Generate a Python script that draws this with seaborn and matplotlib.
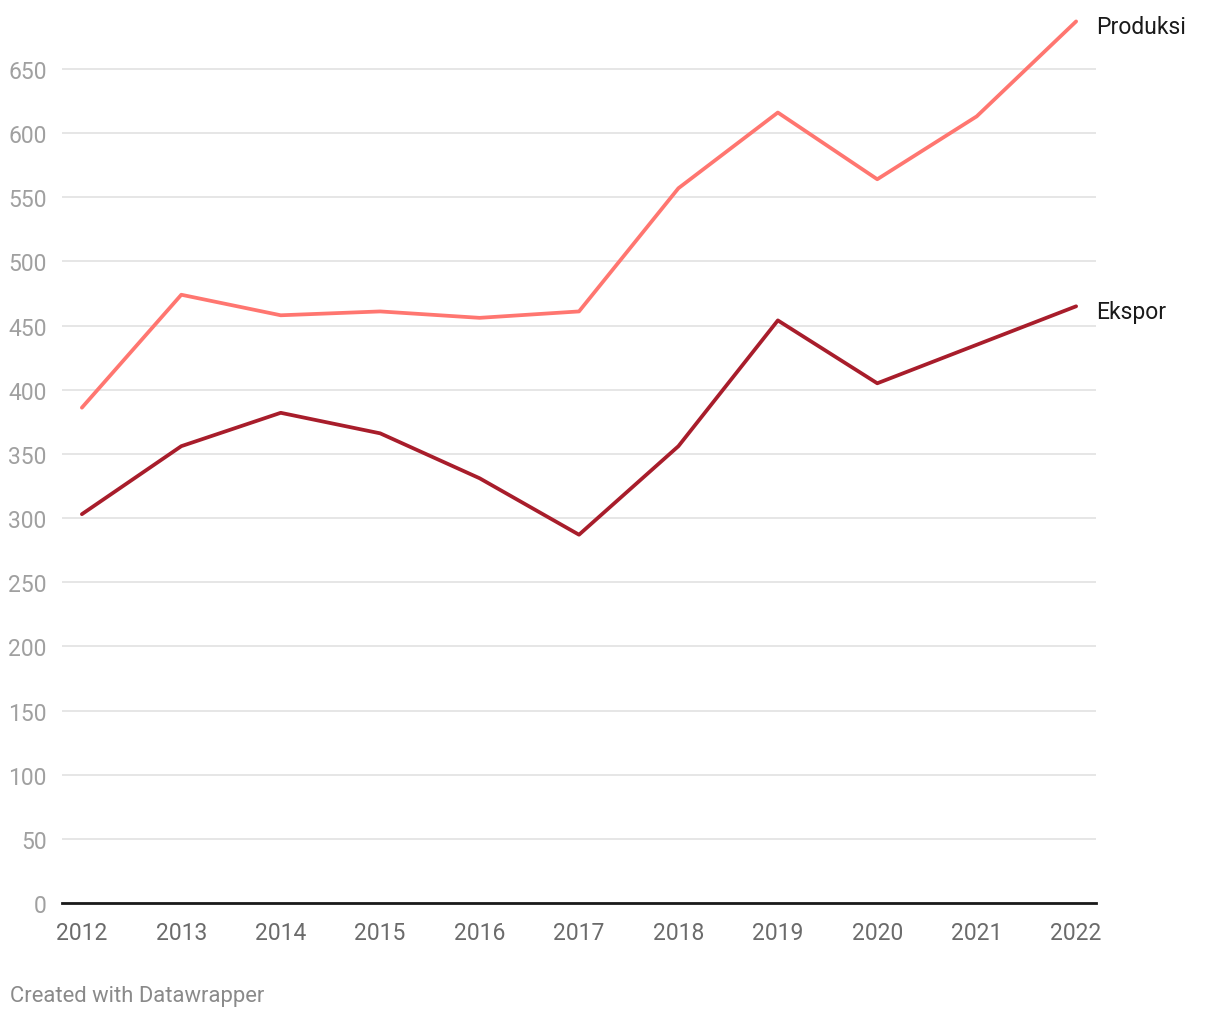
import pandas as pd
import matplotlib
matplotlib.use("Agg")
import matplotlib.pyplot as plt
import seaborn as sns

# Data
years = [2012, 2013, 2014, 2015, 2016, 2017, 2018, 2019, 2020, 2021, 2022]
produksi = [386, 474, 458, 461, 456, 461, 557, 616, 564, 613, 687]
ekspor = [303, 356, 382, 366, 331, 287, 356, 454, 405, 435, 465]
series_names = ["Produksi", "Ekspor"]
y_ticks = [0, 50, 100, 150, 200, 250, 300, 350, 400, 450, 500, 550, 600, 650]

df = pd.DataFrame({"year": years * 2,
                   "value": produksi + ekspor,
                   "series": [series_names[0]] * len(years) + [series_names[1]] * len(years)})

sns.set_theme(style="white")
plt.rcParams['font.family'] = ['Roboto', 'DejaVu Sans']

palette = {"Produksi": "#ff7670", "Ekspor": "#a81d2b"}

fig = plt.figure(figsize=(12.2, 10.2), dpi=100)
ax = fig.add_axes([62 / 1220, 1 - 904 / 1020, (1096 - 62) / 1220, (904 - 16) / 1020])

sns.lineplot(data=df, x="year", y="value", hue="series", palette=palette,
             linewidth=2.7, legend=False, ax=ax, solid_capstyle="round", zorder=3)

ax.set_xlim(2011.8, 2022.2)
ax.set_ylim(0, 692)
ax.set_yticks(y_ticks)
ax.set_xticks(years)
ax.set_xticklabels([str(y) for y in years])
ax.set_xlabel("")
ax.set_ylabel("")
ax.grid(axis="y", color="#e2e2e2", linewidth=1.2)
ax.grid(axis="x", visible=False)
for s in ["top", "right", "left"]:
    ax.spines[s].set_visible(False)
ax.spines["bottom"].set_color("#1a1a1a")
ax.spines["bottom"].set_linewidth(2)
ax.spines["bottom"].set_zorder(4)

ax.tick_params(axis="y", length=0, pad=11, labelsize=16.5, labelcolor="#a0a0a0")
ax.tick_params(axis="x", length=0, pad=13, labelsize=16.5, labelcolor="#6b6b6b")

# direct labels at line ends
for name, vals in zip(series_names, [produksi, ekspor]):
    ax.annotate(name, xy=(2022.2, vals[-1]), xytext=(0, -4), textcoords="offset points",
                fontsize=16.5, color="#1a1a1a", va="center", ha="left", annotation_clip=False)

fig.text(10 / 1220, 1 - 997 / 1020, "Created with Datawrapper", fontsize=15.8, color="#8a8a8a", va="center", ha="left")

fig.savefig("out.png", dpi=100, facecolor="white")
